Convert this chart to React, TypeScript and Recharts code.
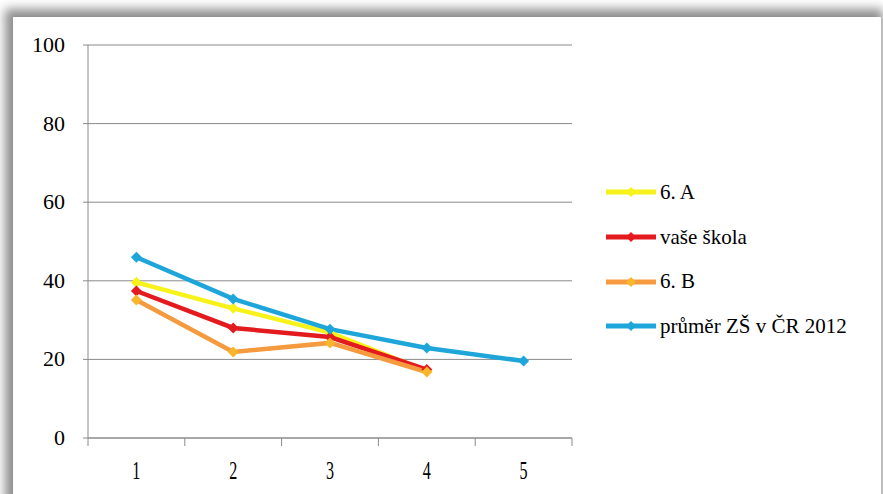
import { LineChart, Line, XAxis, YAxis, CartesianGrid, Legend } from 'recharts';

const categories = [1, 2, 3, 4, 5];
const class6A = [39.6, 33.0, 26.8, 17.0, null];
const yourSchool = [37.4, 28.0, 25.7, 17.4, null];
const class6B = [35.1, 21.9, 24.2, 16.8, null];
const nationalAvg = [46.0, 35.4, 27.7, 22.9, 19.6];
const yTicks = [0, 20, 40, 60, 80, 100];

const SERIES = [
  { key: 'a', name: '6. A', values: class6A, stroke: '#f7f21a', fill: '#f7f21a' },
  { key: 'school', name: 'vaše škola', values: yourSchool, stroke: '#e31b1f', fill: '#e31b1f' },
  { key: 'b', name: '6. B', values: class6B, stroke: '#f59a3e', fill: '#fbb52a' },
  { key: 'avg', name: 'průměr ZŠ v ČR 2012', values: nationalAvg, stroke: '#1ea6da', fill: '#1ea6da' },
];

const W = 883;
const H = 494;
const MARGIN = { top: 45, right: 311, bottom: 0, left: 0 };
const Y_AXIS_W = 88;
const BAND = (W - MARGIN.left - MARGIN.right - Y_AXIS_W) / categories.length;
const FONT = 'Liberation Serif, serif';

const chartData = categories.map((c, i) => {
  const row: Record<string, number | null> = { x: c };
  SERIES.forEach((s) => {
    row[s.key] = s.values[i];
  });
  return row;
});

const diamond = (fill: string) => (props: { cx?: number; cy?: number; index?: number; value?: unknown }) => {
  const { cx, cy, index, value } = props;
  if (cx == null || cy == null || value == null) return <g key={index} />;
  const r = 5.5;
  return (
    <polygon
      key={index}
      points={`${cx},${cy - r} ${cx + r},${cy} ${cx},${cy + r} ${cx - r},${cy}`}
      fill={fill}
    />
  );
};

const XTick = ({ x, y, payload }: { x: number; y: number; payload: { value: number } }) => {
  if (payload.value < 1) return <g />;
  const label = String(payload.value - 0.5);
  return (
    <text
      transform={`translate(${x - BAND / 2}, ${y + 33}) scale(0.62, 1)`}
      textAnchor="middle"
      fontSize={26}
      style={{ fontFamily: FONT }}
      fill="#000"
    >
      {label}
    </text>
  );
};

const YTick = ({ x, y, payload }: { x: number; y: number; payload: { value: number } }) => (
  <text x={x} y={y} dy={7} textAnchor="end" fontSize={22} style={{ fontFamily: FONT }} fill="#000">
    {payload.value}
  </text>
);

const legendContent = () => (
  <div style={{ fontFamily: FONT, fontSize: 21, color: '#000' }}>
    {SERIES.map((s) => (
      <div key={s.key} style={{ height: 44.7, display: 'flex', alignItems: 'center' }}>
        <svg width={54} height={14}>
          <line x1={0} y1={7} x2={50} y2={7} stroke={s.stroke} strokeWidth={5} />
          <polygon points="25,2 30,7 25,12 20,7" fill={s.fill} />
        </svg>
        <span>{s.name}</span>
      </div>
    ))}
  </div>
);

export default function App() {
  return (
    <div
      style={{
        position: 'fixed',
        left: 0,
        top: 0,
        width: W,
        height: H,
        overflow: 'hidden',
        background: '#fff',
        fontFamily: FONT,
      }}
    >
      <div
        style={{
          position: 'absolute',
          left: 13,
          top: 17,
          width: 868,
          height: 520,
          background: '#fff',
          boxShadow: '-3px -3px 10px 5px rgba(0,0,0,0.45)',
        }}
      />
      <div style={{ position: 'absolute', left: 0, top: 0 }}>
        <LineChart width={W} height={H} data={chartData} margin={MARGIN}>
          <CartesianGrid vertical={false} stroke="#8a8a8a" strokeWidth={1} />
          <XAxis
            dataKey="x"
            type="number"
            domain={[0.5, 5.5]}
            ticks={[0.5, 1.5, 2.5, 3.5, 4.5, 5.5]}
            height={56}
            stroke="#8a8a8a"
            tickSize={8}
            tickMargin={0}
            tick={(p: any) => <XTick {...p} />}
            interval={0}
          />
          <YAxis
            domain={[0, 100]}
            ticks={yTicks}
            width={Y_AXIS_W}
            stroke="#8a8a8a"
            tickSize={5}
            tickMargin={18}
            tick={(p: any) => <YTick {...p} />}
            interval={0}
          />
          <Legend
            layout="vertical"
            align="center"
            verticalAlign="middle"
            content={legendContent}
            wrapperStyle={{ left: 606, top: 170, width: 275 }}
          />
          {SERIES.map((s) => (
            <Line
              key={s.key}
              dataKey={s.key}
              name={s.name}
              stroke={s.stroke}
              strokeWidth={4.5}
              dot={diamond(s.fill)}
              activeDot={false}
              isAnimationActive={false}
            />
          ))}
        </LineChart>
      </div>
    </div>
  );
}
